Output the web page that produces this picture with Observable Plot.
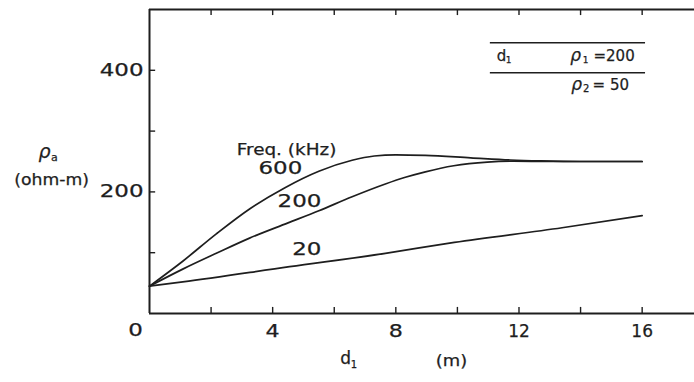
<!DOCTYPE html>
<html>
<head>
<meta charset="utf-8">
<script src="https://cdn.jsdelivr.net/npm/d3@7"></script>
<script src="https://cdn.jsdelivr.net/npm/@observablehq/plot@0.6"></script>
<style>
  body { margin: 0; background: #fff; }
  svg text { font-family: "DejaVu Sans", sans-serif; fill: #1e1e1e; stroke: #1e1e1e; stroke-width: 0.25px; }
</style>
</head>
<body>
<div id="chart"></div>
<script>
// Apparent resistivity vs. top-layer thickness, two-layer earth (rho1 = 200, rho2 = 50)
const d600 = [0, 1.08, 2.17, 3.25, 4.4, 5.5, 6.58, 7.3, 8, 8.96, 10.43, 11.72, 12.7, 14, 16];
const rho600 = [45, 86, 131, 172, 207, 234, 252, 259, 261, 260, 256, 252.5, 251, 250, 250];

const d200 = [0, 1.08, 2.17, 3.25, 4.5, 5.5, 6.58, 7.66, 8.31, 8.96, 9.88, 10.97, 11.82, 13, 16];
const rho200 = [45, 73, 99, 124, 149, 169, 192, 213, 224, 233, 243, 249, 250.5, 250, 250];

const d20 = [0, 1.08, 4.55, 7.66, 9.9, 13.4, 16];
const rho20 = [45, 52, 77, 99, 117, 141, 161];

const freqs = ["600", "200", "20"];
const xTickLabels = [4, 8, 12, 16];
const xTicks = [2, 4, 6, 8, 10, 12, 14, 16];
const yTickLabels = [200, 400];
const yTicks = [100, 200, 300, 400];

const curves = [
  ...d600.map((d, i) => ({freq: freqs[0], d, rho: rho600[i]})),
  ...d200.map((d, i) => ({freq: freqs[1], d, rho: rho200[i]})),
  ...d20.map((d, i) => ({freq: freqs[2], d, rho: rho20[i]}))
];

// curve labels, placed beside each line
const curveLabels = [
  {text: freqs[0], d: 4.25, rho: 239},
  {text: freqs[1], d: 4.87, rho: 184},
  {text: freqs[2], d: 5.11, rho: 106}
];

const ink = "#1e1e1e";
const tickLen = 10; // in rho units (bottom/top), ~6px

const chart = Plot.plot({
  width: 694,
  height: 382,
  marginLeft: 149,
  marginRight: 0,
  marginTop: 9,
  marginBottom: 69,
  x: {domain: [0, 17.7], axis: null},
  y: {domain: [0, 500], axis: null},
  marks: [
    // frame: left edge, bottom and top
    Plot.ruleX([0], {stroke: ink, strokeWidth: 2}),
    Plot.ruleY([0, 500], {stroke: ink, strokeWidth: 2}),
    // inward ticks
    Plot.ruleX(xTicks, {x: d => d, y1: 0, y2: tickLen, stroke: ink, strokeWidth: 1.4}),
    Plot.ruleX(xTicks, {x: d => d, y1: 500 - tickLen, y2: 500, stroke: ink, strokeWidth: 1.4}),
    Plot.ruleY(yTicks, {y: d => d, x1: 0, x2: 0.2, stroke: ink, strokeWidth: 1.4}),
    // tick labels
    Plot.text(yTickLabels, {x: 0, y: d => d, text: d => String(d), textAnchor: "end", dx: -6, fontSize: 17, fill: ink}),
    Plot.text(xTickLabels, {x: d => d, y: 0, text: d => String(d), dy: 18, fontSize: 17, fill: ink}),
    Plot.text(["0"], {x: -0.45, y: 0, text: d => d, dy: 17, fontSize: 17, fill: ink}),
    // curves
    Plot.line(curves, {x: "d", y: "rho", z: "freq", curve: "monotone-x", stroke: ink, strokeWidth: 1.7}),
    Plot.text(curveLabels, {x: "d", y: "rho", text: "text", fontSize: 17, fill: ink}),
    Plot.text(["Freq. (kHz)"], {x: 4.45, y: 269, text: d => d, fontSize: 16, fill: ink}),
    // y-axis title
    Plot.text(["ρ"], {x: -3.41, y: 265.5, text: d => d, fontSize: 19, fontStyle: "italic", fill: ink}),
    Plot.text(["a"], {x: -3.09, y: 257.3, text: d => d, fontSize: 11, fill: ink}),
    Plot.text(["(ohm-m)"], {x: -3.18, y: 219.4, text: d => d, fontSize: 15, fill: ink}),
    // x-axis title
    Plot.text(["d"], {x: 6.37, y: -73.6, text: d => d, fontSize: 17, fill: ink}),
    Plot.text(["1"], {x: 6.64, y: -85.1, text: d => d, fontSize: 10, fill: ink}),
    Plot.text(["(m)"], {x: 9.81, y: -78.5, text: d => d, fontSize: 16, fill: ink}),
    // layer legend
    Plot.ruleY([445.4, 396], {x1: 11.07, x2: 16.11, stroke: ink, strokeWidth: 1.5}),
    Plot.text(["d"], {x: 11.43, y: 423.5, text: d => d, fontSize: 15, fill: ink}),
    Plot.text(["1"], {x: 11.66, y: 416.9, text: d => d, fontSize: 9, fill: ink}),
    Plot.text(["ρ"], {x: 13.84, y: 423.5, text: d => d, fontSize: 17, fontStyle: "italic", fill: ink}),
    Plot.text(["1"], {x: 14.16, y: 416.9, text: d => d, fontSize: 9, fill: ink}),
    Plot.text(["=200"], {x: 14.42, y: 423.5, text: d => d, textAnchor: "start", fontSize: 15, fill: ink}),
    Plot.text(["ρ"], {x: 13.87, y: 375.8, text: d => d, fontSize: 17, fontStyle: "italic", fill: ink}),
    Plot.text(["2"], {x: 14.18, y: 369.3, text: d => d, fontSize: 10, fill: ink}),
    Plot.text(["= 50"], {x: 14.39, y: 375.8, text: d => d, textAnchor: "start", fontSize: 15, fill: ink})
  ]
});

document.getElementById("chart").appendChild(chart);

// the lettering is a wide geometric face; stretch DejaVu glyphs to suit
const stretch = {
  "400": 1.35, "200": 1.35, "600": 1.35, "20": 1.35, "0": 1.35, "4": 1.3, "8": 1.3,
  "Freq. (kHz)": 1.15, "(ohm-m)": 1.15, "(m)": 1.12
};
d3.select(chart).selectAll("text").each(function () {
  const f = stretch[this.textContent];
  if (!f) return;
  const len = this.getComputedTextLength();
  this.setAttribute("textLength", (len * f).toFixed(1));
  this.setAttribute("lengthAdjust", "spacingAndGlyphs");
});
</script>
</body>
</html>
